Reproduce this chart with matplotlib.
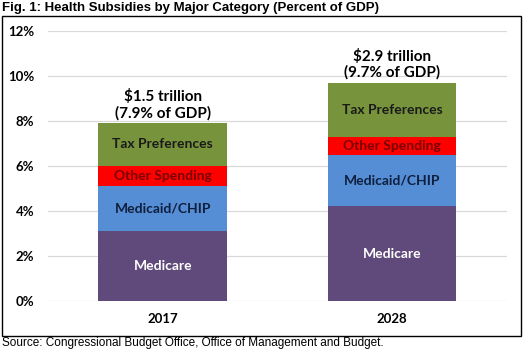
import matplotlib
matplotlib.use("Agg")
import matplotlib.pyplot as plt
from matplotlib.patches import Rectangle

years = ["2017", "2028"]
categories = ["Medicare", "Medicaid/CHIP", "Other Spending", "Tax Preferences"]
medicare = [3.1, 4.2]
medicaid = [2.0, 2.3]
other = [0.9, 0.8]
tax = [1.9, 2.4]
totals_label = ["\\$1.5 trillion\n(7.9% of GDP)", "\\$2.9 trillion\n(9.7% of GDP)"]
totals = [7.9, 9.7]

colors = ["#604A7B", "#558ED5", "#FF0000", "#77933C"]
text_colors = ["white", "#0F1F3D", "#7A0000", "#1A1A1A"]

body_font = "Lato"

fig = plt.figure(figsize=(5.25, 3.51), dpi=100)
ax = fig.add_axes([0.0914, 0.1433, 0.874, 0.7684])

x = list(range(len(years)))
series = [medicare, medicaid, other, tax]
bottom = [0.0, 0.0]
for vals, col, tcol, name in zip(series, colors, text_colors, categories):
    ax.bar(x, vals, width=0.56, bottom=bottom, color=col, zorder=3)
    for i in x:
        ax.text(i, bottom[i] + vals[i] / 2, name, ha="center", va="center",
                color=tcol, fontsize=10, fontweight="bold", family=body_font, zorder=4)
    bottom = [b + v for b, v in zip(bottom, vals)]

for i in x:
    ax.text(i, totals[i] + 0.12, totals_label[i], ha="center", va="bottom",
            fontsize=11, fontweight="bold", family=body_font, linespacing=1.15)

ax.set_xlim(-0.5, 1.5)
ax.set_ylim(0, 12)
ax.set_yticks(range(0, 13, 2))
ax.set_yticklabels([f"{v}%" for v in range(0, 13, 2)])
ax.set_xticks(x)
ax.set_xticklabels(years)
for lab in ax.get_xticklabels() + ax.get_yticklabels():
    lab.set_fontfamily(body_font)
    lab.set_fontweight("bold")
    lab.set_fontsize(9.5)
ax.tick_params(axis="both", length=0)
ax.tick_params(axis="y", pad=10)
ax.tick_params(axis="x", pad=9)
ax.grid(axis="y", color="#D9D9D9", linewidth=0.9, zorder=0)
for s in ax.spines.values():
    s.set_visible(False)

fig.patches.append(Rectangle((2 / 525, 1 - 336 / 351), 519 / 525, 320 / 351,
                             transform=fig.transFigure, fill=False,
                             edgecolor="black", linewidth=1.0))

fig.text(2 / 525, 1 - 8 / 351, "Fig. 1: Health Subsidies by Major Category (Percent of GDP)",
         ha="left", va="center", fontsize=9.5, fontweight="bold", family="Liberation Sans")
fig.text(2 / 525, 1 - 343 / 351, "Source: Congressional Budget Office, Office of Management and Budget.",
         ha="left", va="center", fontsize=8.5, family="Liberation Sans")

fig.savefig("out.png", dpi=100)
